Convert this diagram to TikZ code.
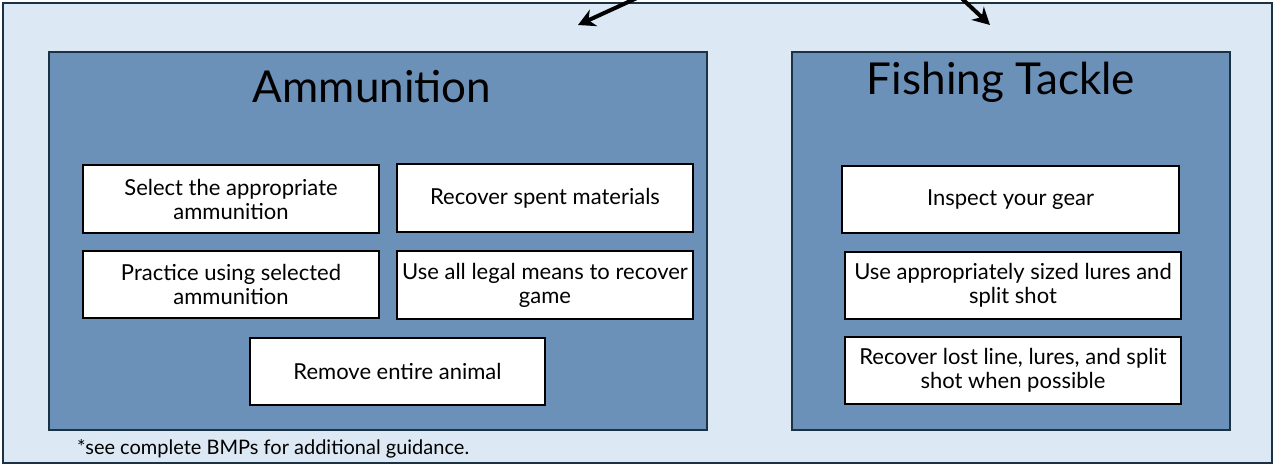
\documentclass[tikz,border=0pt]{standalone}
\usepackage{fontspec}
\setmainfont{Lato}
\usetikzlibrary{arrows.meta}
\definecolor{edge}{HTML}{1B3245}
\definecolor{pale}{HTML}{DCE9F5}
\definecolor{panel}{HTML}{6C91B8}
\tikzset{
  panelbox/.style={draw=edge, line width=2.2pt, fill=panel, inner sep=0pt},
  wbox/.style={draw=black, line width=2pt, fill=white, align=center, inner sep=0pt,
    font=\fontsize{22}{24}\selectfont},
  ptitle/.style={font=\fontsize{44}{48}\selectfont, inner sep=0pt},
  arr/.style={line width=4pt, -{Stealth[length=17pt,width=18pt]}}
}
\begin{document}
\begin{tikzpicture}[x=1pt,y=-1pt]
\useasboundingbox (0,0) rectangle (1275,466);
\clip (0,0) rectangle (1275,466);
\node[draw=edge, line width=2.2pt, fill=pale, minimum width=1269, minimum height=460, inner sep=0pt] (outer) at (637.5,233) {};
\node[panelbox, minimum width=658, minimum height=378] (ammo) at (378,241) {};
\node[panelbox, minimum width=438, minimum height=378] (fish) at (1011,241) {};
\node[ptitle] (ammot) at (372,87) {Ammunition};
\node[ptitle] (fisht) at (1001,82) {Fishing Tackle};
\node[wbox, minimum width=296, minimum height=68] (a1) at (231,199) {Select the appropriate\\ammunition};
\node[wbox, minimum width=296, minimum height=68] (a2) at (545,198) {Recover spent materials};
\node[wbox, minimum width=296, minimum height=67] (a3) at (231,284.5) {Practice using selected\\ammunition};
\node[wbox, minimum width=296, minimum height=68] (a4) at (545,285) {Use all legal means to recover\\game};
\node[wbox, minimum width=295, minimum height=67] (a5) at (397.5,371) {Remove entire animal};
\node[wbox, minimum width=337, minimum height=67] (f1) at (1010.5,199.5) {Inspect your gear};
\node[wbox, minimum width=336, minimum height=67] (f2) at (1013,285.5) {Use appropriately sized lures and\\split shot};
\node[wbox, minimum width=336, minimum height=67] (f3) at (1013,370.5) {Recover lost line, lures, and split\\shot when possible};
\node[font=\fontsize{20}{22}\selectfont, anchor=west, inner sep=0pt] (note) at (77,449) {*see complete BMPs for additional guidance.};
\coordinate (s1) at (650,-8);
\coordinate (e1) at (578,25);
\coordinate (s2) at (955,-8);
\coordinate (e2) at (990,25);
\draw[arr] (s1) -- (e1);
\draw[arr] (s2) -- (e2);
\end{tikzpicture}
\end{document}
